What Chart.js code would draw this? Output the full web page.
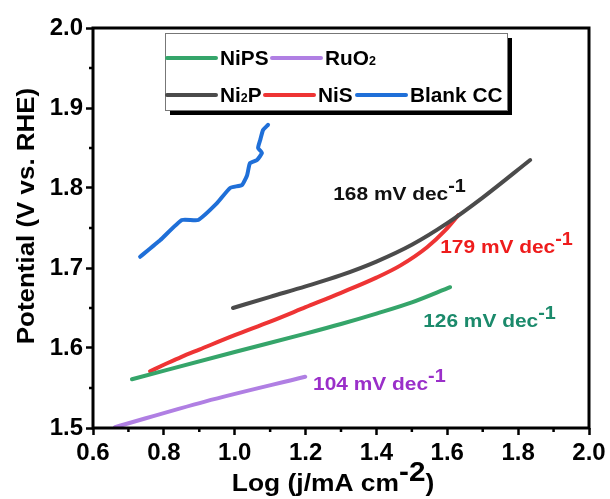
<!DOCTYPE html>
<html>
<head>
<meta charset="utf-8">
<script src="https://cdn.jsdelivr.net/npm/chart.js@4"></script>
<style>
  html, body { margin: 0; padding: 0; background: #fff; }
  #wrap { width: 610px; height: 499px; }
</style>
</head>
<body>
<div id="wrap"><canvas id="tafel" width="610" height="499"></canvas></div>
<script>
// Tafel data (x = log j, y = potential vs RHE)
const nipsX = [0.710, 1.0, 1.2, 1.3, 1.4, 1.5, 1.608];
const nipsY = [1.561, 1.595, 1.618, 1.630, 1.643, 1.657, 1.676];

const ruo2X = [0.662, 0.916, 1.199];
const ruo2Y = [1.501, 1.533, 1.564];

const ni2pX = [0.995, 1.1, 1.2, 1.3, 1.4, 1.5, 1.6, 1.7, 1.834];
const ni2pY = [1.650, 1.664, 1.677, 1.691, 1.708, 1.729, 1.756, 1.788, 1.835];

const nisX = [0.761, 0.80, 0.85, 0.90, 1.0, 1.1, 1.2, 1.3, 1.4, 1.467, 1.543, 1.594, 1.631];
const nisY = [1.571, 1.579, 1.589, 1.598, 1.616, 1.633, 1.651, 1.669, 1.688, 1.703, 1.726, 1.747, 1.766];

const blankX = [0.733, 0.79, 0.851, 0.897, 0.950, 0.987, 1.021, 1.035, 1.043, 1.063, 1.077, 1.066, 1.072, 1.080, 1.094];
const blankY = [1.714, 1.735, 1.760, 1.760, 1.781, 1.800, 1.804, 1.816, 1.831, 1.835, 1.844, 1.850, 1.860, 1.8725, 1.879];

// Tafel slope labels
const slopeText = ["168 mV dec", "179 mV dec", "126 mV dec", "104 mV dec"];
const slopeAt = [[1.278, 1.785], [1.580, 1.719], [1.532, 1.626], [1.221, 1.5475]];
const slopeColors = ["#111111", "#ee1c1c", "#1b8a6b", "#9a2fc9"];

const GREEN = "#35a56a", PURPLE = "#b07fe3", GRAY = "#4b4b4b", RED = "#ee3434", BLUE = "#1f6fd8";

const pts = (xs, ys) => xs.map((v, i) => ({ x: v, y: ys[i] }));

const FONT = "'Liberation Sans', Arial, sans-serif";

// draw a run of text pieces (for sub/superscripts), sx stretches horizontally
function drawRich(ctx, parts, x, y, sx) {
  sx = sx || 1;
  ctx.save();
  ctx.translate(x, y);
  ctx.scale(sx, 1);
  let cx = 0;
  for (const p of parts) {
    ctx.font = p.font;
    ctx.fillStyle = p.color;
    ctx.fillText(p.t, cx, p.dy || 0);
    cx += ctx.measureText(p.t).width;
  }
  ctx.restore();
  return cx * sx;
}

function richWidth(ctx, parts) {
  let w = 0;
  for (const p of parts) { ctx.font = p.font; w += ctx.measureText(p.t).width; }
  return w;
}

const decorPlugin = {
  id: "decor",
  afterDraw(chart) {
    const { ctx, chartArea: a, scales: { x, y } } = chart;
    ctx.save();
    // frame
    ctx.lineWidth = 3;
    ctx.strokeStyle = "#000";
    ctx.strokeRect(a.left, a.top, a.right - a.left, a.bottom - a.top);
    // minor ticks
    ctx.lineWidth = 2.5;
    ctx.beginPath();
    for (let v = 0.7; v < 2.0; v += 0.2) {
      const px = x.getPixelForValue(v);
      ctx.moveTo(px, a.bottom);
      ctx.lineTo(px, a.bottom + 4);
    }
    for (let v = 1.55; v < 2.0; v += 0.1) {
      const py = y.getPixelForValue(v);
      ctx.moveTo(a.left, py);
      ctx.lineTo(a.left - 4, py);
    }
    ctx.stroke();

    // legend box with shadow
    const L = 165, T = 33, R = 507, B = 110;
    ctx.fillStyle = "#000";
    ctx.fillRect(L + 5, T + 5, R - L, B - T);
    ctx.fillStyle = "#fff";
    ctx.fillRect(L, T, R - L, B - T);
    ctx.lineWidth = 1;
    ctx.strokeStyle = "#777";
    ctx.strokeRect(L + 0.5, T + 0.5, R - L, B - T);

    ctx.textBaseline = "alphabetic";
    ctx.lineWidth = 4;
    ctx.lineCap = "round";
    const lbl = "bold 20px " + FONT, sub = "bold 12px " + FONT;
    const entry = (x0, yy, color, parts) => {
      ctx.strokeStyle = color;
      ctx.beginPath();
      ctx.moveTo(x0, yy);
      ctx.lineTo(x0 + 49, yy);
      ctx.stroke();
      drawRich(ctx, parts, x0 + 53, yy + 7, 1.04);
    };
    entry(167, 58, GREEN, [{ t: "NiPS", font: lbl, color: "#000" }]);
    entry(272, 58, PURPLE, [{ t: "RuO", font: lbl, color: "#000" }, { t: "2", font: sub, color: "#000" }]);
    entry(167, 95, GRAY, [{ t: "Ni", font: lbl, color: "#000" }, { t: "2", font: sub, color: "#000" }, { t: "P", font: lbl, color: "#000" }]);
    entry(265, 95, RED, [{ t: "NiS", font: lbl, color: "#000" }]);
    entry(357, 95, BLUE, [{ t: "Blank CC", font: lbl, color: "#000" }]);

    // slope labels
    const big = "bold 19px " + FONT, sup = "bold 18px " + FONT;
    slopeText.forEach((t, i) => {
      const px = x.getPixelForValue(slopeAt[i][0]);
      const py = y.getPixelForValue(slopeAt[i][1]);
      drawRich(ctx, [
        { t: t, font: big, color: slopeColors[i] },
        { t: "-1", font: sup, color: slopeColors[i], dy: -8 }
      ], px, py, 1.1);
    });

    // axis titles
    ctx.fillStyle = "#000";
    ctx.save();
    ctx.translate(34, 216);
    ctx.rotate(-Math.PI / 2);
    ctx.scale(1.08, 1);
    ctx.font = "bold 24px " + FONT;
    ctx.textAlign = "center";
    ctx.fillText("Potential (V vs. RHE)", 0, 0);
    ctx.restore();

    const xt = [
      { t: "Log (j/mA cm", font: "bold 24px " + FONT, color: "#000" },
      { t: "-2", font: "bold 27px " + FONT, color: "#000", dy: -10 },
      { t: ")", font: "bold 24px " + FONT, color: "#000" }
    ];
    const w = richWidth(ctx, xt) * 1.1;
    drawRich(ctx, xt, 333 - w / 2, 491, 1.1);
    ctx.restore();
  }
};

const line = (label, xs, ys, color, smooth) => ({
  label: label,
  data: pts(xs, ys),
  showLine: true,
  borderColor: color,
  backgroundColor: color,
  borderWidth: 4,
  pointRadius: 0,
  cubicInterpolationMode: smooth ? "monotone" : "default",
  tension: smooth ? 0.4 : 0.15,
  borderCapStyle: "round",
  borderJoinStyle: "round"
});

const tickFont = { family: FONT, size: 24, weight: "bold" };

new Chart(document.getElementById("tafel"), {
  type: "scatter",
  plugins: [decorPlugin],
  data: {
    datasets: [
      line("NiPS", nipsX, nipsY, GREEN, true),
      line("RuO2", ruo2X, ruo2Y, PURPLE, true),
      line("Ni2P", ni2pX, ni2pY, GRAY, true),
      line("NiS", nisX, nisY, RED, true),
      line("Blank CC", blankX, blankY, BLUE, false)
    ]
  },
  options: {
    responsive: false,
    animation: false,
    layout: { padding: { left: 0, top: 28, right: 21, bottom: 0 } },
    plugins: { legend: { display: false }, tooltip: { enabled: false } },
    scales: {
      x: {
        type: "linear",
        min: 0.6,
        max: 2.0,
        afterFit: (s) => { s.height = 71; },
        ticks: {
          stepSize: 0.2,
          color: "#000",
          font: tickFont,
          padding: 4,
          maxRotation: 0,
          callback: (v) => Number(v).toFixed(1)
        },
        grid: { drawOnChartArea: false, drawTicks: true, tickLength: 7, tickWidth: 2.5, tickColor: "#000" },
        border: { display: false }
      },
      y: {
        type: "linear",
        min: 1.5,
        max: 2.0,
        afterFit: (s) => { s.width = 93; },
        ticks: {
          stepSize: 0.1,
          color: "#000",
          font: tickFont,
          padding: 3,
          callback: (v) => Number(v).toFixed(1)
        },
        grid: { drawOnChartArea: false, drawTicks: true, tickLength: 7, tickWidth: 2.5, tickColor: "#000" },
        border: { display: false }
      }
    }
  }
});
</script>
</body>
</html>
